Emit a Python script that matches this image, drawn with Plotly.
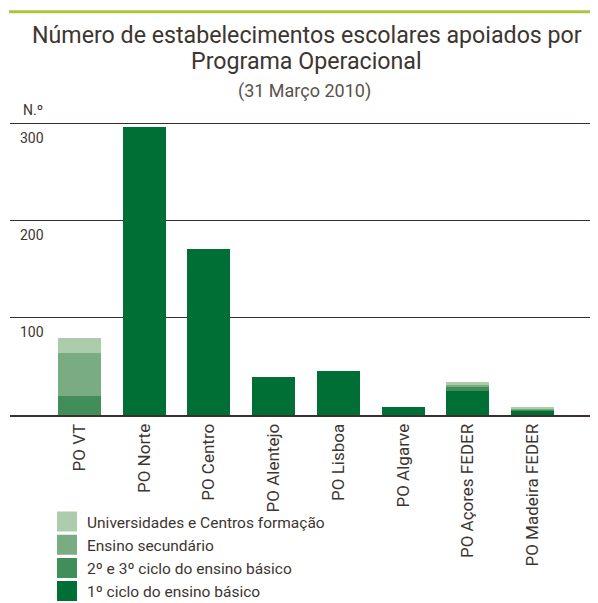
import plotly.graph_objects as go

categories = ["PO VT", "PO Norte", "PO Centro", "PO Alentejo", "PO Lisboa",
              "PO Algarve", "PO Açores FEDER", "PO Madeira FEDER"]
ciclo1 = [0, 297, 171, 39, 45, 8, 25, 5]
ciclo23 = [20, 0, 0, 0, 0, 0, 4, 1]
secundario = [44, 0, 0, 0, 0, 0, 2, 1]
universidades = [15, 0, 0, 0, 0, 0, 3, 1]

series_names = ["1º ciclo do ensino básico", "2º e 3º ciclo do ensino básico",
                "Ensino secundário", "Universidades e Centros formação"]
series_values = [ciclo1, ciclo23, secundario, universidades]
colors = ["#006f36", "#418e5b", "#7aac83", "#abcdab"]

y_ticks = [100, 200, 300]
y_tick_labels = ["100", "200", "300"]

TEXT = "#3d3530"
FONT = "Roboto"

OFF = 8  # page body margin
W, H = 598 - OFF, 603 - OFF
ML, MR, MT, MB = 2, 0, 110, 188
PH = H - MT - MB
PW = W - ML - MR


def py(ypix):  # ypix in screenshot coordinates
    return (H - MB - (ypix - OFF)) / PH


def px(xpix):  # xpix in screenshot coordinates
    return ((xpix - OFF) - ML) / PW


fig = go.Figure()
for name, vals, col in zip(series_names, series_values, colors):
    fig.add_trace(go.Bar(x=categories, y=vals, name=name, marker_color=col,
                         marker_line_width=0, width=0.665, showlegend=False))

# legend entries (larger square symbols)
for name, col in reversed(list(zip(series_names, colors))):
    fig.add_trace(go.Scatter(x=[None], y=[None], mode="markers", name=name,
                             marker=dict(symbol="square", size=16, color=col,
                                         line=dict(color=col, width=4))))

fig.update_layout(
    width=W, height=H,
    margin=dict(l=ML, r=MR, t=MT, b=MB, pad=0, autoexpand=False),
    paper_bgcolor="white", plot_bgcolor="white",
    barmode="stack", bargap=0,
    font=dict(family=FONT, color=TEXT),
    showlegend=True,
    legend=dict(x=px(47), xanchor="left", y=py(505), yanchor="top",
                font=dict(size=15.5, color=TEXT, family=FONT),
                traceorder="normal", bgcolor="rgba(0,0,0,0)"),
    xaxis=dict(type="category", range=[-1.074, 8.013], tickangle=-90,
               tickfont=dict(size=17, color=TEXT, family=FONT),
               showgrid=False, showline=True, linecolor="#3a2f29", linewidth=2,
               ticks="", fixedrange=True, automargin=False),
    yaxis=dict(range=[0, 306], tickvals=y_ticks, ticktext=y_tick_labels,
               ticklabelposition="inside bottom", ticklabelstandoff=7,
               ticklabelshift=4,
               tickfont=dict(size=14, color=TEXT, family=FONT),
               showgrid=True, gridcolor="#3a2f29", gridwidth=1.2,
               zeroline=False, showline=False, ticks="", fixedrange=True,
               automargin=False),
    shapes=[dict(type="line", xref="paper", yref="paper",
                 x0=px(9), x1=1, y0=py(11.7), y1=py(11.7),
                 line=dict(color="#a6c83a", width=3))],
    annotations=[
        dict(text="Número de estabelecimentos escolares apoiados por",
             xref="paper", yref="paper", x=px(307), y=py(34.5),
             xanchor="center", yanchor="middle", showarrow=False,
             font=dict(size=23.2, color=TEXT, family=FONT)),
        dict(text="Programa Operacional",
             xref="paper", yref="paper", x=px(306), y=py(61.5),
             xanchor="center", yanchor="middle", showarrow=False,
             font=dict(size=23.2, color=TEXT, family=FONT)),
        dict(text="(31 Março 2010)",
             xref="paper", yref="paper", x=px(305), y=py(91.5),
             xanchor="center", yanchor="middle", showarrow=False,
             font=dict(size=18, color="#5a524d", family=FONT)),
        dict(text="N.º",
             xref="paper", yref="paper", x=px(21), y=py(110.5),
             xanchor="left", yanchor="middle", showarrow=False,
             font=dict(size=14, color=TEXT, family=FONT)),
    ],
)

fig.write_html("out.html")
